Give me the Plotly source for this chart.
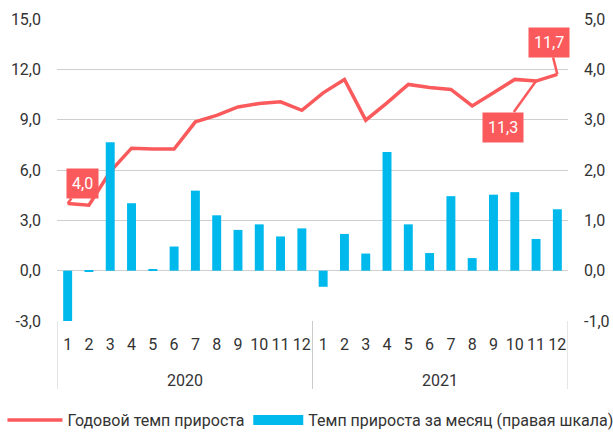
import plotly.graph_objects as go

years = ["2020"] * 12 + ["2021"] * 12
months = [str(m) for m in range(1, 13)] * 2
year_labels = ["2020", "2021"]

annual_growth = [4.0, 3.9, 5.9, 7.3, 7.25, 7.25, 8.87, 9.26, 9.76, 9.96, 10.06, 9.56,
                 10.6, 11.4, 8.97, 10.0, 11.1, 10.92, 10.8, 9.82, 10.6, 11.4, 11.3, 11.7]
monthly_growth = [-1.03, -0.01, 2.55, 1.34, 0.03, 0.48, 1.59, 1.10, 0.81, 0.92, 0.68, 0.84,
                  -0.32, 0.73, 0.34, 2.36, 0.92, 0.35, 1.48, 0.25, 1.51, 1.56, 0.63, 1.22]

left_ticks = [-3, 0, 3, 6, 9, 12, 15]
right_ticks = [-1, 0, 1, 2, 3, 4, 5]

def fmt(v):
    return f"{v:.1f}".replace(".", ",")

categories = [f"{y} | {m}" for y, m in zip(years, months)]

RED = "#FA5A5C"
BLUE = "#00B9EC"
FONT = "Roboto"
TXT = "#333333"
GRID = "#cfcfcf"

fig = go.Figure()
fig.add_trace(go.Bar(
    x=categories, y=monthly_growth, yaxis="y2",
    marker=dict(color=BLUE, line=dict(width=0)),
    name="Темп прироста за месяц (правая шкала)", showlegend=False,
))
fig.add_trace(go.Scatter(
    x=categories, y=annual_growth, mode="lines",
    line=dict(color=RED, width=3.5),
    name="Годовой темп прироста", legend="legend",
))
# legend proxy for the bars (wide rectangle symbol)
fig.add_trace(go.Scatter(
    x=categories[:1], y=[None], mode="lines", yaxis="y2",
    line=dict(color=BLUE, width=12),
    name="Темп прироста за месяц (правая шкала)", legend="legend2",
))

def callout(idx, text, ax, ay):
    fig.add_annotation(
        x=idx, y=annual_growth[idx], xref="x", yref="y",
        text=text, showarrow=True, arrowhead=0, arrowwidth=2.5, arrowcolor=RED,
        ax=ax, ay=ay, bgcolor=RED, borderpad=5,
        font=dict(family=FONT, size=16, color="white"),
    )

callout(0, fmt(annual_growth[0]), 15, -20)
callout(22, fmt(annual_growth[22]), -33, 46)
callout(23, fmt(annual_growth[23]), -8, -32)

# year group labels and dividers
n_per_year = 12
for gi, yl in enumerate(year_labels):
    fig.add_annotation(
        x=gi * n_per_year + (n_per_year - 1) / 2, y=-0.197, xref="x", yref="paper",
        text=yl, showarrow=False, yanchor="middle",
        font=dict(family=FONT, size=16, color=TXT),
    )
for b in range(len(year_labels) + 1):
    fig.add_shape(
        type="line", xref="x", yref="paper",
        x0=b * n_per_year - 0.5, x1=b * n_per_year - 0.5, y0=0, y1=-0.225,
        line=dict(color="#cccccc", width=1),
    )

fig.update_layout(
    width=613, height=433,
    margin=dict(l=57, r=45, t=19, b=112, autoexpand=False),
    plot_bgcolor="white", paper_bgcolor="white",
    separators=", ",
    font=dict(family=FONT, size=16, color=TXT),
    bargap=0.58,
    xaxis=dict(
        type="category", showgrid=False, ticks="", tickangle=0,
        tickvals=categories, ticktext=months, range=[-0.5, 23.5],
        tickfont=dict(size=16, color=TXT), ticklabelstandoff=12,
        showline=False, automargin=False,
    ),
    yaxis=dict(
        range=[-3, 15], tickvals=left_ticks, ticktext=[fmt(v) for v in left_ticks],
        showgrid=True, gridcolor=GRID, gridwidth=1.2, zeroline=False,
        tickfont=dict(size=16, color=TXT), ticks="", ticklabelstandoff=15,
        automargin=False,
    ),
    yaxis2=dict(
        range=[-1, 5], tickvals=right_ticks, ticktext=[fmt(v) for v in right_ticks],
        overlaying="y", side="right", showgrid=False, zeroline=False,
        tickfont=dict(size=16, color=TXT), ticks="", ticklabelstandoff=15,
        automargin=False,
    ),
    legend=dict(
        orientation="h", xref="container", yref="container",
        x=0.004, xanchor="left", y=0.03, yanchor="middle",
        font=dict(family=FONT, size=16, color=TXT), itemwidth=55,
        bgcolor="rgba(0,0,0,0)",
    ),
    legend2=dict(
        orientation="h", xref="container", yref="container",
        x=0.405, xanchor="left", y=0.03, yanchor="middle",
        font=dict(family=FONT, size=16, color=TXT), itemwidth=50,
        bgcolor="rgba(0,0,0,0)",
    ),
)

fig.write_html("out.html", config={"displayModeBar": False},
               post_script="document.body.style.margin='0px';")
